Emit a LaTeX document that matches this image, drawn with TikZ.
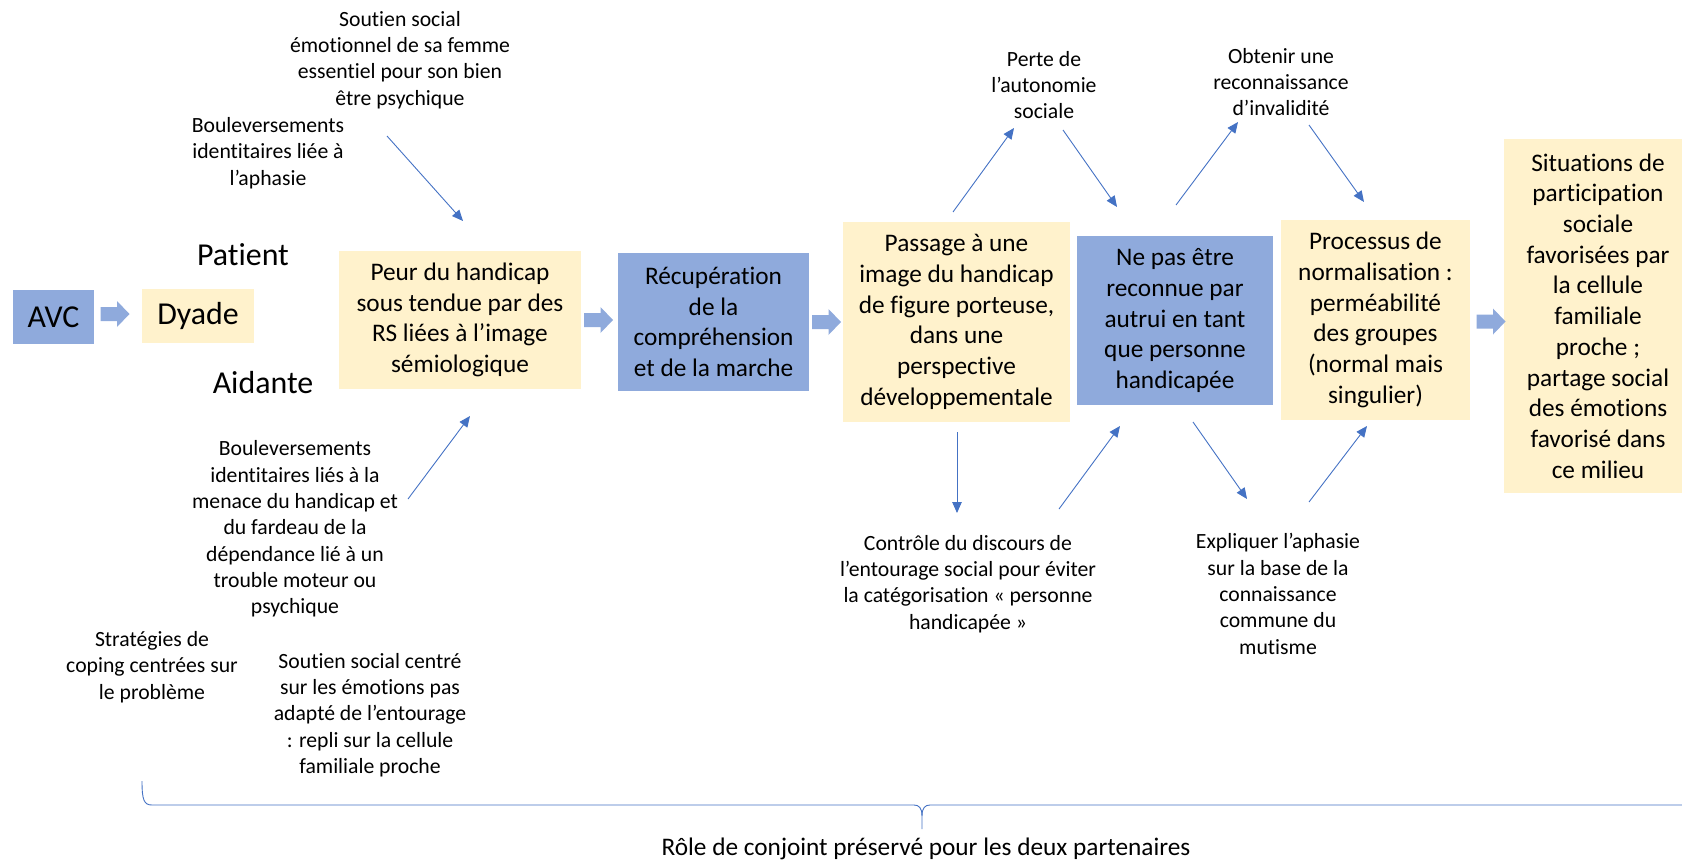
\documentclass[tikz,border=0pt]{standalone}
\usepackage{fontspec}
\setmainfont{Carlito}[Ligatures={NoCommon}]
\usetikzlibrary{arrows.meta}
\definecolor{boxblue}{HTML}{8FAADC}
\definecolor{boxyellow}{HTML}{FFF2CC}
\definecolor{lineblue}{HTML}{4472C4}
\newcommand\fsz[2]{\fontsize{#1}{#2}\selectfont}
\begin{document}
\begin{tikzpicture}[x=1pt,y=-1pt,
  bx/.style={inner sep=0pt, align=center, font=\fsz{25.3}{30.7}},
  bluebox/.style={bx, fill=boxblue},
  yellowbox/.style={bx, fill=boxyellow},
  note/.style={inner sep=0pt, align=center, font=\fsz{21.7}{26.3}},
  big/.style={inner sep=0pt, font=\fsz{31.9}{38}},
  ln/.style={draw=lineblue, line width=0.9pt, -{Triangle[length=11pt,width=9.5pt]}},
  barrow/.pic={\fill[boxblue] (-14.5,-7) -- (2,-7) -- (2,-13) -- (14.5,0) -- (2,13) -- (2,7) -- (-14.5,7) -- cycle;}
]
\useasboundingbox (0,0) rectangle (1682,860);

% main boxes
\node[bluebox, big, minimum width=81pt, minimum height=54pt] (avc) at (53.5,317) {AVC};
\node[yellowbox, big, minimum width=112pt, minimum height=54pt] (dyade) at (198,316) {Dyade};
\node[yellowbox, minimum width=242pt, minimum height=138pt] (peur) at (460,320)
  {Peur du handicap\\sous tendue par des\\RS liées à l’image\\sémiologique};
\node[bluebox, minimum width=191pt, minimum height=138pt] (recup) at (713.5,322)
  {Récupération\\de la\\compréhension\\et de la marche};
\node[yellowbox, minimum width=227pt, minimum height=200pt] (passage) at (956.5,322)
  {Passage à une\\image du handicap\\de figure porteuse,\\dans une\\perspective\\développementale};
\node[bluebox, minimum width=196pt, minimum height=169pt] (nepas) at (1175,320.5)
  {Ne pas être\\reconnue par\\autrui en tant\\que personne\\handicapée};
\node[yellowbox, minimum width=189pt, minimum height=200pt] (proc) at (1375.5,320)
  {Processus de\\normalisation :\\perméabilité\\des groupes\\(normal mais\\singulier)};
\node[yellowbox, minimum width=188pt, minimum height=354pt] (sit) at (1598,316)
  {Situations de\\participation\\sociale\\favorisées par\\la cellule\\familiale\\proche ;\\partage social\\des émotions\\favorisé dans\\ce milieu};

% block arrows
\pic at (115,314) {barrow};
\pic at (598.5,320) {barrow};
\pic at (826.5,322) {barrow};
\pic at (1491,321.5) {barrow};

% labels
\node[big, anchor=base] (patient) at (243,265) {Patient};
\node[big, anchor=base] (aidante) at (263,393) {Aidante};

\node[note] (soutienA) at (400,60) {Soutien social\\émotionnel de sa femme\\essentiel pour son bien\\être psychique};
\node[note] (boulA) at (268,153) {Bouleversements\\identitaires liée à\\l’aphasie};
\node[note] (boulB) at (295,529) {Bouleversements\\identitaires liés à la\\menace du handicap et\\du fardeau de la\\dépendance lié à un\\trouble moteur ou\\psychique};
\node[note] (strat) at (152,667) {Stratégies de\\coping centrées sur\\le problème};
\node[note] (soutienB) at (370,715) {Soutien social centré\\sur les émotions pas\\adapté de l’entourage\\: repli sur la cellule\\familiale proche};
\node[note] (perte) at (1044,85) {Perte de\\l’autonomie\\sociale};
\node[note] (obtenir) at (1281,82) {Obtenir une\\reconnaissance\\d’invalidité};
\node[note] (controle) at (968,584) {Contrôle du discours de\\l’entourage social pour éviter\\la catégorisation « personne\\handicapée »};
\node[note] (expl) at (1278,594) {Expliquer l’aphasie\\sur la base de la\\connaissance\\commune du\\mutisme};
\node[bx, anchor=base] (role) at (926,855) {Rôle de conjoint préservé pour les deux partenaires};

% thin arrows
\draw[ln] (387,136) -- (463,221);
\draw[ln] (408,499) -- (470,416);
\draw[ln] (953,212) -- (1014,128);
\draw[ln] (1063,130) -- (1117,207);
\draw[ln] (957,432) -- (957,513);
\draw[ln] (1059,509) -- (1120,426);
\draw[ln] (1176,205) -- (1238,122);
\draw[ln] (1309,125) -- (1364,202);
\draw[ln] (1193,422) -- (1247,499);
\draw[ln] (1309,502) -- (1367,426);

% brace
\draw[lineblue, line width=0.9pt]
  (142,781) .. controls (142,800) and (144,805) .. (152,805) -- (914,805)
  .. controls (919,805) and (922,808) .. (922,816) -- (922,829);
\draw[lineblue, line width=0.9pt]
  (922,816) .. controls (922,808) and (925,805) .. (930,805) -- (1692,805)
  .. controls (1700,805) and (1702,800) .. (1702,781);
\end{tikzpicture}
\end{document}
